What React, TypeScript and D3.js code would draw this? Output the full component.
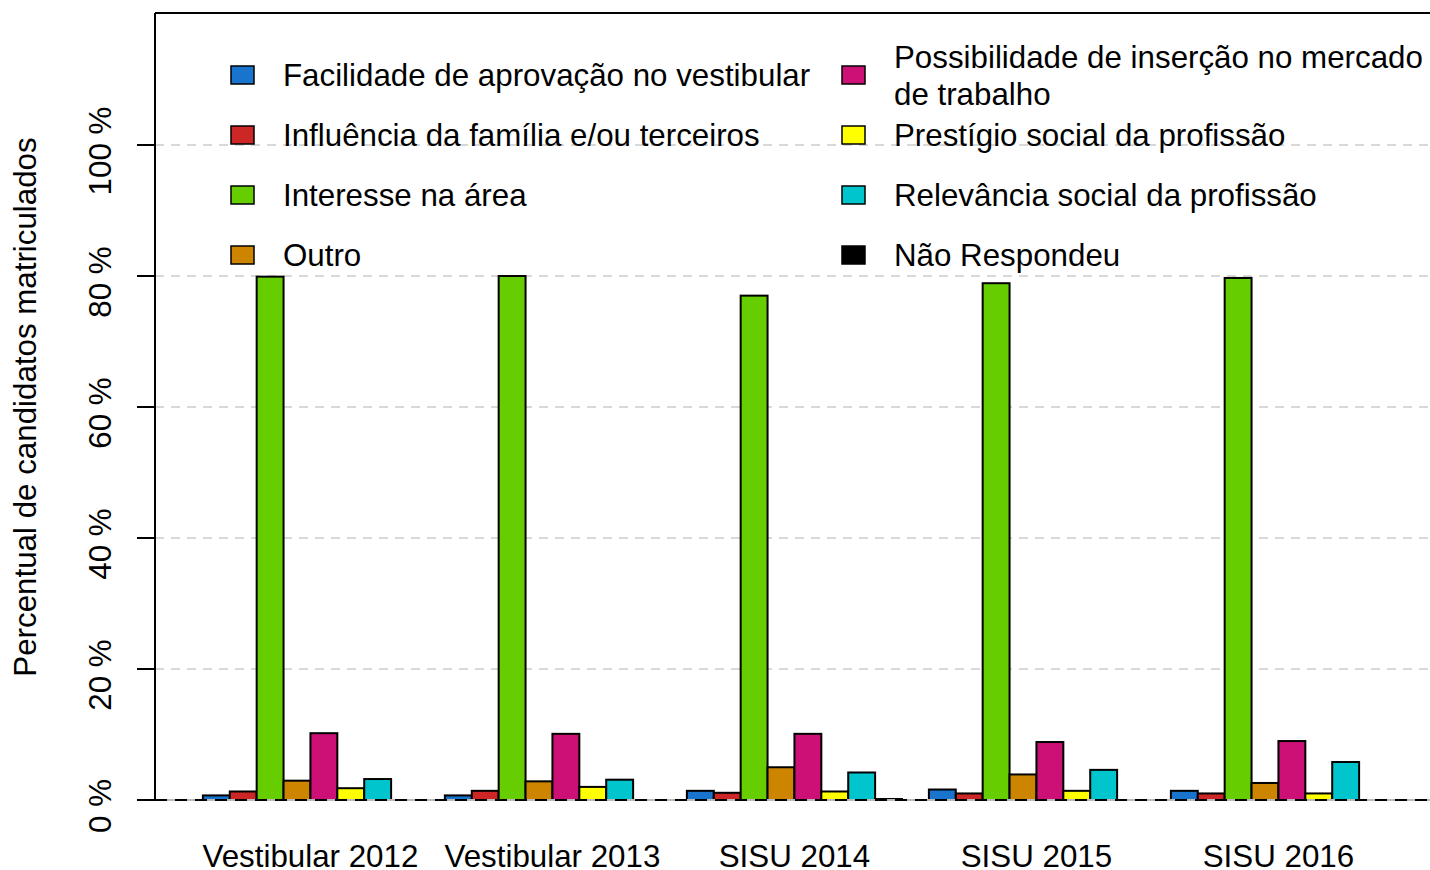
import React from 'react';
import * as d3 from 'd3';

const groups = ['Vestibular 2012', 'Vestibular 2013', 'SISU 2014', 'SISU 2015', 'SISU 2016'];
const series = [
  'Facilidade de aprovação no vestibular',
  'Influência da família e/ou terceiros',
  'Interesse na área',
  'Outro',
  'Possibilidade de inserção no mercado de trabalho',
  'Prestígio social da profissão',
  'Relevância social da profissão',
  'Não Respondeu',
];
const colors = ['#1874CD', '#CD2626', '#66CD00', '#CD8500', '#CD1076', '#FFFF00', '#00C5CD', '#000000'];

// percent per group, one array per series (same order as series)
const facilidade = [0.7, 0.7, 1.4, 1.6, 1.4];
const influencia = [1.3, 1.4, 1.1, 1.0, 1.0];
const interesse = [79.9, 80.0, 77.0, 78.9, 79.7];
const outro = [2.95, 2.85, 5.0, 3.9, 2.6];
const possibilidade = [10.2, 10.1, 10.1, 8.85, 9.0];
const prestigio = [1.8, 2.0, 1.3, 1.4, 1.0];
const relevancia = [3.2, 3.1, 4.2, 4.6, 5.8];
const naoRespondeu = [0, 0, 0.15, 0, 0];
const values = [facilidade, influencia, interesse, outro, possibilidade, prestigio, relevancia, naoRespondeu];

const yTicks = [0, 20, 40, 60, 80, 100];
const yTickLabels = ['0 %', '20 %', '40 %', '60 %', '80 %', '100 %'];

// legend layout
const legendItems = [
  { s: 0, col: 0, row: 0, lines: ['Facilidade de aprovação no vestibular'] },
  { s: 1, col: 0, row: 1, lines: ['Influência da família e/ou terceiros'] },
  { s: 2, col: 0, row: 2, lines: ['Interesse na área'] },
  { s: 3, col: 0, row: 3, lines: ['Outro'] },
  { s: 4, col: 1, row: 0, lines: ['Possibilidade de inserção no mercado', 'de trabalho'] },
  { s: 5, col: 1, row: 1, lines: ['Prestígio social da profissão'] },
  { s: 6, col: 1, row: 2, lines: ['Relevância social da profissão'] },
  { s: 7, col: 1, row: 3, lines: ['Não Respondeu'] },
];

const W = 1430;
const H = 870;
const left = 155;
const top = 13;
const fs = 31.3;
const font = '"Liberation Sans", Arial, Helvetica, sans-serif';

const App = () => {
  const y = d3.scaleLinear().domain([0, 100]).range([800, 145]);
  const x0 = d3.scaleBand<string>()
    .domain(groups)
    .range([176, 176 + 242 * (46 / 9)])
    .paddingInner(1 / 9)
    .paddingOuter(1 / 9);
  const x1 = d3.scaleBand<number>()
    .domain(d3.range(series.length))
    .range([0, x0.bandwidth()]);

  const legendX = [231, 842];
  const legendY = (row: number) => 75 + row * 60;

  return (
    <svg width={W} height={H} style={{ position: 'absolute', left: 0, top: 0, background: '#fff' }} fontFamily={font}>
      {/* grid */}
      {yTicks.map(t => (
        <line key={'g' + t} x1={left} x2={W} y1={y(t)} y2={y(t)} stroke="#cccccc" strokeWidth={1.5} strokeDasharray="9,7" />
      ))}

      {/* bars */}
      {groups.map((g, gi) => (
        <g key={g} transform={`translate(${x0(g)},0)`}>
          {values.map((vals, si) => (
            <rect
              key={si}
              x={x1(si)}
              y={y(vals[gi])}
              width={x1.bandwidth()}
              height={y(0) - y(vals[gi])}
              fill={colors[si]}
              stroke="#000"
              strokeWidth={2}
            />
          ))}
        </g>
      ))}

      {/* zero line */}
      <line x1={left} x2={W} y1={y(0)} y2={y(0)} stroke="#bbbbbb" strokeWidth={2} />
      <line x1={left} x2={W} y1={y(0)} y2={y(0)} stroke="#000" strokeWidth={2} strokeDasharray="12,8" />

      {/* box */}
      <line x1={left} x2={W} y1={top} y2={top} stroke="#000" strokeWidth={2} />
      <line x1={left} x2={left} y1={top} y2={y(0)} stroke="#000" strokeWidth={2} />

      {/* y axis */}
      {yTicks.map((t, i) => (
        <g key={'t' + t}>
          <line x1={137} x2={left} y1={y(t)} y2={y(t)} stroke="#000" strokeWidth={2} />
          <text
            transform={`translate(111,${y(t) + 6}) rotate(-90)`}
            textAnchor="middle"
            fontSize={fs}
          >
            {yTickLabels[i]}
          </text>
        </g>
      ))}
      <text transform={`translate(36,407) rotate(-90)`} textAnchor="middle" fontSize={fs}>
        Percentual de candidatos matriculados
      </text>

      {/* x labels */}
      {groups.map(g => (
        <text key={'x' + g} x={(x0(g) as number) + x0.bandwidth() / 2} y={867} textAnchor="middle" fontSize={fs}>
          {g}
        </text>
      ))}

      {/* legend */}
      {legendItems.map(it => {
        const cx = legendX[it.col];
        const cy = legendY(it.row);
        const lineH = 37;
        const startY = cy - ((it.lines.length - 1) * lineH) / 2;
        return (
          <g key={'l' + it.s}>
            <rect x={cx} y={cy - 9} width={23} height={18} fill={colors[it.s]} stroke="#000" strokeWidth={1.5} />
            {it.lines.map((ln, li) => (
              <text key={li} x={cx + 52} y={startY + li * lineH} dy="0.36em" fontSize={fs}>
                {ln}
              </text>
            ))}
          </g>
        );
      })}
    </svg>
  );
};

export default App;
